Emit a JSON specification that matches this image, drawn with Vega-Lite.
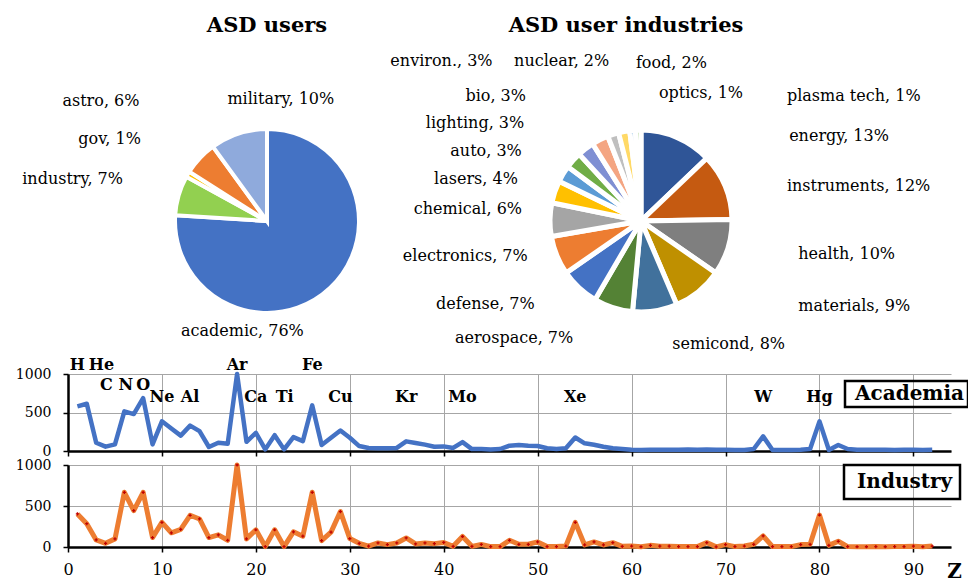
{
  "$schema": "https://vega.github.io/schema/vega-lite/v6.json",
  "autosize": {"type": "pad"},
  "padding": {"left": 15, "top": 14, "right": 4, "bottom": 0},
  "background": "white",
  "config": {
    "view": {"stroke": null},
    "font": "DejaVu Serif",
    "axis": {"labelFont": "DejaVu Serif", "labelFontSize": 16, "labelColor": "black", "domainColor": "black", "domainWidth": 2.5, "tickColor": "black", "tickWidth": 1.5, "gridColor": "#A6A6A6", "gridWidth": 1, "labelFlush": false, "labelOverlap": false},
    "axisY": {"labelFontSize": 14},
    "legend": {"strokeColor": "black", "strokeWidth": 2.5, "labelFont": "DejaVu Serif", "labelFontSize": 20, "labelFontWeight": "bold", "labelColor": "black", "symbolSize": 0, "symbolStrokeWidth": 0, "symbolOpacity": 0},
    "text": {"font": "DejaVu Serif"}
  },
  "datasets": {
    "users": [
      {"group": "academic", "pct": 76, "label": "academic, 76%"},
      {"group": "industry", "pct": 7, "label": "industry, 7%"},
      {"group": "gov", "pct": 1, "label": "gov, 1%"},
      {"group": "astro", "pct": 6, "label": "astro, 6%"},
      {"group": "military", "pct": 10, "label": "military, 10%"}
    ],
    "industries": [
      {"group": "energy", "pct": 13, "label": "energy, 13%"},
      {"group": "instruments", "pct": 12, "label": "instruments, 12%"},
      {"group": "health", "pct": 10, "label": "health, 10%"},
      {"group": "materials", "pct": 9, "label": "materials, 9%"},
      {"group": "semicond", "pct": 8, "label": "semicond, 8%"},
      {"group": "aerospace", "pct": 7, "label": "aerospace, 7%"},
      {"group": "defense", "pct": 7, "label": "defense, 7%"},
      {"group": "electronics", "pct": 7, "label": "electronics, 7%"},
      {"group": "chemical", "pct": 6, "label": "chemical, 6%"},
      {"group": "lasers", "pct": 4, "label": "lasers, 4%"},
      {"group": "auto", "pct": 3, "label": "auto, 3%"},
      {"group": "lighting", "pct": 3, "label": "lighting, 3%"},
      {"group": "bio", "pct": 3, "label": "bio, 3%"},
      {"group": "environ.", "pct": 3, "label": "environ., 3%"},
      {"group": "nuclear", "pct": 2, "label": "nuclear, 2%"},
      {"group": "food", "pct": 2, "label": "food, 2%"},
      {"group": "optics", "pct": 1, "label": "optics, 1%"},
      {"group": "plasma tech", "pct": 1, "label": "plasma tech, 1%"}
    ],
    "academia": [
      {"Z":1,"n":580},{"Z":2,"n":614},{"Z":3,"n":107},{"Z":4,"n":56},{"Z":5,"n":86},{"Z":6,"n":515},{"Z":7,"n":480},{"Z":8,"n":687},{"Z":9,"n":86},{"Z":10,"n":386},
      {"Z":11,"n":292},{"Z":12,"n":200},{"Z":13,"n":330},{"Z":14,"n":258},{"Z":15,"n":52},{"Z":16,"n":107},{"Z":17,"n":94},{"Z":18,"n":1000},{"Z":19,"n":120},{"Z":20,"n":236},
      {"Z":21,"n":21},{"Z":22,"n":206},{"Z":23,"n":21},{"Z":24,"n":180},{"Z":25,"n":129},{"Z":26,"n":592},{"Z":27,"n":77},{"Z":28,"n":172},{"Z":29,"n":266},{"Z":30,"n":172},
      {"Z":31,"n":64},{"Z":32,"n":40},{"Z":33,"n":35},{"Z":34,"n":35},{"Z":35,"n":40},{"Z":36,"n":125},{"Z":37,"n":105},{"Z":38,"n":83},{"Z":39,"n":55},{"Z":40,"n":60},
      {"Z":41,"n":40},{"Z":42,"n":115},{"Z":43,"n":25},{"Z":44,"n":25},{"Z":45,"n":20},{"Z":46,"n":26},{"Z":47,"n":69},{"Z":48,"n":78},{"Z":49,"n":69},{"Z":50,"n":65},
      {"Z":51,"n":35},{"Z":52,"n":26},{"Z":53,"n":35},{"Z":54,"n":175},{"Z":55,"n":100},{"Z":56,"n":82},{"Z":57,"n":56},{"Z":58,"n":35},{"Z":59,"n":26},{"Z":60,"n":17},
      {"Z":61,"n":13},{"Z":62,"n":15},{"Z":63,"n":15},{"Z":64,"n":15},{"Z":65,"n":15},{"Z":66,"n":18},{"Z":67,"n":15},{"Z":68,"n":20},{"Z":69,"n":15},{"Z":70,"n":15},
      {"Z":71,"n":13},{"Z":72,"n":13},{"Z":73,"n":26},{"Z":74,"n":190},{"Z":75,"n":13},{"Z":76,"n":13},{"Z":77,"n":13},{"Z":78,"n":16},{"Z":79,"n":26},{"Z":80,"n":385},
      {"Z":81,"n":13},{"Z":82,"n":78},{"Z":83,"n":26},{"Z":84,"n":15},{"Z":85,"n":15},{"Z":86,"n":15},{"Z":87,"n":15},{"Z":88,"n":13},{"Z":89,"n":15},{"Z":90,"n":15},
      {"Z":91,"n":13},{"Z":92,"n":15}
    ],
    "industry": [
      {"Z":1,"n":403},{"Z":2,"n":284},{"Z":3,"n":86},{"Z":4,"n":45},{"Z":5,"n":99},{"Z":6,"n":667},{"Z":7,"n":444},{"Z":8,"n":667},{"Z":9,"n":115},{"Z":10,"n":300},
      {"Z":11,"n":173},{"Z":12,"n":214},{"Z":13,"n":387},{"Z":14,"n":342},{"Z":15,"n":115},{"Z":16,"n":148},{"Z":17,"n":82},{"Z":18,"n":1000},{"Z":19,"n":99},{"Z":20,"n":210},
      {"Z":21,"n":5},{"Z":22,"n":210},{"Z":23,"n":5},{"Z":24,"n":185},{"Z":25,"n":132},{"Z":26,"n":667},{"Z":27,"n":78},{"Z":28,"n":181},{"Z":29,"n":432},{"Z":30,"n":103},
      {"Z":31,"n":45},{"Z":32,"n":10},{"Z":33,"n":49},{"Z":34,"n":29},{"Z":35,"n":49},{"Z":36,"n":110},{"Z":37,"n":37},{"Z":38,"n":49},{"Z":39,"n":41},{"Z":40,"n":55},
      {"Z":41,"n":8},{"Z":42,"n":128},{"Z":43,"n":8},{"Z":44,"n":31},{"Z":45,"n":5},{"Z":46,"n":5},{"Z":47,"n":82},{"Z":48,"n":33},{"Z":49,"n":33},{"Z":50,"n":62},
      {"Z":51,"n":5},{"Z":52,"n":5},{"Z":53,"n":12},{"Z":54,"n":300},{"Z":55,"n":25},{"Z":56,"n":62},{"Z":57,"n":25},{"Z":58,"n":53},{"Z":59,"n":8},{"Z":60,"n":12},
      {"Z":61,"n":3},{"Z":62,"n":20},{"Z":63,"n":10},{"Z":64,"n":10},{"Z":65,"n":5},{"Z":66,"n":5},{"Z":67,"n":5},{"Z":68,"n":53},{"Z":69,"n":2},{"Z":70,"n":29},
      {"Z":71,"n":5},{"Z":72,"n":12},{"Z":73,"n":33},{"Z":74,"n":135},{"Z":75,"n":5},{"Z":76,"n":5},{"Z":77,"n":5},{"Z":78,"n":29},{"Z":79,"n":33},{"Z":80,"n":390},
      {"Z":81,"n":20},{"Z":82,"n":70},{"Z":83,"n":5},{"Z":84,"n":3},{"Z":85,"n":3},{"Z":86,"n":5},{"Z":87,"n":3},{"Z":88,"n":5},{"Z":89,"n":5},{"Z":90,"n":10},
      {"Z":91,"n":3},{"Z":92,"n":12}
    ],
    "elements": [
      {"el":"H","Z":1},{"el":"He","Z":2},{"el":"C","Z":6},{"el":"N","Z":7},{"el":"O","Z":8},{"el":"Ne","Z":10},{"el":"Al","Z":13},{"el":"Ar","Z":18},{"el":"Ca","Z":20},{"el":"Ti","Z":22},
      {"el":"Fe","Z":26},{"el":"Cu","Z":29},{"el":"Kr","Z":36},{"el":"Mo","Z":42},{"el":"Xe","Z":54},{"el":"W","Z":74},{"el":"Hg","Z":80}
    ]
  },
  "spacing": 0,
  "resolve": {"scale": {"color": "independent", "theta": "independent"}, "legend": {"color": "independent"}},
  "vconcat": [
    {
      "hconcat": [
        {
          "width": 398, "height": 270,
          "title": {"text": "ASD users", "frame": "group", "anchor": "middle", "offset": 33, "baseline": "alphabetic", "fontSize": 21, "fontWeight": "bold", "font": "DejaVu Serif", "color": "black"},
          "data": {"name": "users"},
          "transform": [
            {"window": [{"op": "row_number", "as": "idx"}]},
            {"stack": "pct", "groupby": [], "sort": [{"field": "idx"}], "offset": "normalize", "as": ["t0", "t1"]},
            {"calculate": "(datum.t0 + datum.t1) / 2", "as": "tm"}
          ],
          "layer": [
            {"mark": {"type": "arc", "outerRadius": 92, "stroke": "white", "strokeWidth": 4},
             "encoding": {
               "theta": {"field": "t0", "type": "quantitative", "scale": {"domain": [0, 1]}},
               "theta2": {"field": "t1"},
               "color": {"field": "group", "type": "nominal", "legend": null,
                 "scale": {"domain": ["academic", "industry", "gov", "astro", "military"], "range": ["#4472C4", "#92D050", "#FFC000", "#ED7D31", "#8FAADC"]}}
             }},
            {"transform": [{"filter": {"field": "group", "equal": "military"}}],
             "mark": {"type": "text", "radius": 128, "align": "left", "baseline": "middle", "fontSize": 16, "color": "black"},
             "encoding": {"theta": {"field": "tm", "type": "quantitative"}, "text": {"field": "label"}}},
            {"transform": [{"filter": {"field": "group", "equal": "astro"}}],
             "mark": {"type": "text", "radius": 175, "align": "right", "baseline": "middle", "fontSize": 16, "color": "black"},
             "encoding": {"theta": {"field": "tm", "type": "quantitative"}, "text": {"field": "label"}}},
            {"transform": [{"filter": {"field": "group", "equal": "gov"}}],
             "mark": {"type": "text", "radius": 150, "align": "right", "baseline": "middle", "dx": 3, "dy": -6, "fontSize": 16, "color": "black"},
             "encoding": {"theta": {"field": "tm", "type": "quantitative"}, "text": {"field": "label"}}},
            {"transform": [{"filter": {"field": "group", "equal": "industry"}}],
             "mark": {"type": "text", "radius": 150, "align": "right", "baseline": "middle", "fontSize": 16, "color": "black"},
             "encoding": {"theta": {"field": "tm", "type": "quantitative"}, "text": {"field": "label"}}},
            {"transform": [{"filter": {"field": "group", "equal": "academic"}}],
             "mark": {"type": "text", "radius": 118, "align": "right", "baseline": "middle", "dx": -44, "dy": 24, "fontSize": 16, "color": "black"},
             "encoding": {"theta": {"field": "tm", "type": "quantitative"}, "text": {"field": "label"}}}
          ]
        },
        {
          "width": 350, "height": 270,
          "title": {"text": "ASD user industries", "frame": "group", "anchor": "middle", "offset": 0, "baseline": "alphabetic", "fontSize": 21, "fontWeight": "bold", "font": "DejaVu Serif", "color": "black", "dx": -15},
          "data": {"name": "industries"},
          "transform": [
            {"window": [{"op": "row_number", "as": "idx"}]},
            {"stack": "pct", "groupby": [], "sort": [{"field": "idx"}], "offset": "normalize", "as": ["t0", "t1"]},
            {"calculate": "(datum.t0 + datum.t1) / 2", "as": "tm"}
          ],
          "layer": [
            {"mark": {"type": "arc", "outerRadius": 91, "stroke": "white", "strokeWidth": 5},
             "encoding": {
               "theta": {"field": "t0", "type": "quantitative", "scale": {"domain": [0, 1]}},
               "theta2": {"field": "t1"},
               "color": {"field": "group", "type": "nominal", "legend": null,
                 "scale": {
                   "domain": ["energy", "instruments", "health", "materials", "semicond", "aerospace", "defense", "electronics", "chemical", "lasers", "auto", "lighting", "bio", "environ.", "nuclear", "food", "optics", "plasma tech"],
                   "range": ["#2F5597", "#C55A11", "#7F7F7F", "#BF9000", "#41719C", "#548235", "#4472C4", "#ED7D31", "#A5A5A5", "#FFC000", "#5B9BD5", "#70AD47", "#7F8FD3", "#F4A582", "#BFBFBF", "#FFD966", "#9DC3E6", "#A9D18E"]}}
             }},
            {"transform": [{"filter": {"field": "group", "equal": "instruments"}}],
             "mark": {"type": "text", "radius": 135, "align": "left", "baseline": "middle", "dx": 21, "dy": 16, "fontSize": 16, "color": "black"},
             "encoding": {"theta": {"field": "tm", "type": "quantitative"}, "text": {"field": "label"}}},
            {"transform": [{"filter": {"field": "group", "equal": "health"}}],
             "mark": {"type": "text", "radius": 135, "align": "left", "baseline": "middle", "dx": 28, "dy": -6, "fontSize": 16, "color": "black"},
             "encoding": {"theta": {"field": "tm", "type": "quantitative"}, "text": {"field": "label"}}},
            {"transform": [{"filter": {"field": "group", "equal": "materials"}}],
             "mark": {"type": "text", "radius": 135, "align": "left", "baseline": "middle", "dx": 72, "dy": -20, "fontSize": 16, "color": "black"},
             "encoding": {"theta": {"field": "tm", "type": "quantitative"}, "text": {"field": "label"}}},
            {"transform": [{"filter": {"field": "group", "equal": "semicond"}}],
             "mark": {"type": "text", "radius": 125, "align": "left", "baseline": "middle", "dx": 12, "fontSize": 16, "color": "black"},
             "encoding": {"theta": {"field": "tm", "type": "quantitative"}, "text": {"field": "label"}}},
            {"transform": [{"filter": {"field": "group", "equal": "aerospace"}}],
             "mark": {"type": "text", "radius": 130, "align": "right", "baseline": "middle", "dx": -28, "dy": -7, "fontSize": 16, "color": "black"},
             "encoding": {"theta": {"field": "tm", "type": "quantitative"}, "text": {"field": "label"}}},
            {"transform": [{"filter": {"field": "group", "equal": "defense"}}],
             "mark": {"type": "text", "radius": 130, "align": "right", "baseline": "middle", "dx": -18, "dy": -12, "fontSize": 16, "color": "black"},
             "encoding": {"theta": {"field": "tm", "type": "quantitative"}, "text": {"field": "label"}}},
            {"transform": [{"filter": {"field": "group", "equal": "electronics"}}],
             "mark": {"type": "text", "radius": 130, "align": "right", "baseline": "middle", "dx": 7, "dy": -14, "fontSize": 16, "color": "black"},
             "encoding": {"theta": {"field": "tm", "type": "quantitative"}, "text": {"field": "label"}}},
            {"transform": [{"filter": {"field": "group", "equal": "chemical"}}],
             "mark": {"type": "text", "radius": 130, "align": "right", "baseline": "middle", "dx": 11, "dy": -10, "fontSize": 16, "color": "black"},
             "encoding": {"theta": {"field": "tm", "type": "quantitative"}, "text": {"field": "label"}}},
            {"transform": [{"filter": {"field": "group", "equal": "lasers"}}],
             "mark": {"type": "text", "radius": 130, "align": "right", "baseline": "middle", "fontSize": 16, "color": "black"},
             "encoding": {"theta": {"field": "tm", "type": "quantitative"}, "text": {"field": "label"}}},
            {"transform": [{"filter": {"field": "group", "equal": "auto"}}],
             "mark": {"type": "text", "radius": 130, "align": "right", "baseline": "middle", "dx": -8, "dy": -3, "fontSize": 16, "color": "black"},
             "encoding": {"theta": {"field": "tm", "type": "quantitative"}, "text": {"field": "label"}}},
            {"transform": [{"filter": {"field": "group", "equal": "lighting"}}],
             "mark": {"type": "text", "radius": 130, "align": "right", "baseline": "middle", "dx": -20, "dy": -11, "fontSize": 16, "color": "black"},
             "encoding": {"theta": {"field": "tm", "type": "quantitative"}, "text": {"field": "label"}}},
            {"transform": [{"filter": {"field": "group", "equal": "energy"}}],
             "mark": {"type": "text", "radius": 130, "align": "left", "baseline": "middle", "dx": 97, "dy": 35, "fontSize": 16, "color": "black"},
             "encoding": {"theta": {"field": "tm", "type": "quantitative"}, "text": {"field": "label"}}},
            {"transform": [{"filter": {"field": "group", "equal": "bio"}}],
             "mark": {"type": "text", "radius": 130, "align": "right", "baseline": "middle", "dx": -36, "dy": -22, "fontSize": 16, "color": "black"},
             "encoding": {"theta": {"field": "tm", "type": "quantitative"}, "text": {"field": "label"}}},
            {"transform": [{"filter": {"field": "group", "equal": "environ."}}],
             "mark": {"type": "text", "radius": 130, "align": "right", "baseline": "middle", "dx": -90, "dy": -44, "fontSize": 16, "color": "black"},
             "encoding": {"theta": {"field": "tm", "type": "quantitative"}, "text": {"field": "label"}}},
            {"transform": [{"filter": {"field": "group", "equal": "nuclear"}}],
             "mark": {"type": "text", "radius": 130, "align": "right", "baseline": "middle", "dx": 8, "dy": -36, "fontSize": 16, "color": "black"},
             "encoding": {"theta": {"field": "tm", "type": "quantitative"}, "text": {"field": "label"}}},
            {"transform": [{"filter": {"field": "group", "equal": "food"}}],
             "mark": {"type": "text", "radius": 130, "align": "left", "baseline": "middle", "dx": 19, "dy": -30, "fontSize": 16, "color": "black"},
             "encoding": {"theta": {"field": "tm", "type": "quantitative"}, "text": {"field": "label"}}},
            {"transform": [{"filter": {"field": "group", "equal": "optics"}}],
             "mark": {"type": "text", "radius": 130, "align": "left", "baseline": "middle", "dx": 30, "dy": 1, "fontSize": 16, "color": "black"},
             "encoding": {"theta": {"field": "tm", "type": "quantitative"}, "text": {"field": "label"}}},
            {"transform": [{"filter": {"field": "group", "equal": "plasma tech"}}],
             "mark": {"type": "text", "radius": 130, "align": "left", "baseline": "middle", "dx": 150, "dy": 5, "fontSize": 16, "color": "black"},
             "encoding": {"theta": {"field": "tm", "type": "quantitative"}, "text": {"field": "label"}}}
          ]
        }
      ],
      "spacing": 0,
      "bounds": "flush",
      "resolve": {"scale": {"color": "independent", "theta": "independent"}, "legend": {"color": "independent"}}
    },
    {
      "width": 883, "height": 77,
      "resolve": {"axis": {"x": "independent", "y": "independent"}},
      "layer": [
        {"data": {"name": "academia"},
         "mark": {"type": "line", "strokeWidth": 4.5, "strokeJoin": "round"},
         "encoding": {
           "x": {"field": "Z", "type": "quantitative", "scale": {"domain": [0, 94], "nice": false, "zero": false},
                 "axis": {"orient": "bottom", "values": [0, 10, 20, 30, 40, 50, 60, 70, 80, 90], "labels": false, "title": null, "tickSize": 5, "grid": true, "labelOverlap": false}},
           "y": {"field": "n", "type": "quantitative", "scale": {"domain": [0, 1000], "nice": false},
                 "axis": {"orient": "left", "values": [0, 500, 1000], "format": "d", "title": null, "tickSize": 5, "labelPadding": 12, "labelOverlap": false, "grid": true}},
           "color": {"datum": "Academia", "type": "nominal", "scale": {"range": ["#4472C4"]},
                     "legend": {"orient": "none", "legendX": 777, "legendY": 7, "title": null, "padding": 3, "labelOffset": -13}}
         }},
        {"data": {"name": "elements"}, "transform": [{"filter": {"field": "el", "oneOf": ["H", "Ar", "Fe"]}}],
         "mark": {"type": "text", "fontWeight": "bold", "fontSize": 16, "color": "black", "baseline": "middle"},
         "encoding": {"x": {"field": "Z", "type": "quantitative", "axis": null}, "y": {"datum": 1117, "type": "quantitative", "axis": null}, "text": {"field": "el"}}},
        {"data": {"name": "elements"}, "transform": [{"filter": {"field": "el", "equal": "He"}}],
         "mark": {"type": "text", "fontWeight": "bold", "fontSize": 16, "color": "black", "baseline": "middle", "align": "left", "dx": 2},
         "encoding": {"x": {"field": "Z", "type": "quantitative", "axis": null}, "y": {"datum": 1117, "type": "quantitative", "axis": null}, "text": {"field": "el"}}},
        {"data": {"name": "elements"}, "transform": [{"filter": {"field": "el", "equal": "C"}}],
         "mark": {"type": "text", "fontWeight": "bold", "fontSize": 16, "color": "black", "baseline": "middle", "dx": -18},
         "encoding": {"x": {"field": "Z", "type": "quantitative", "axis": null}, "y": {"datum": 860, "type": "quantitative", "axis": null}, "text": {"field": "el"}}},
        {"data": {"name": "elements"}, "transform": [{"filter": {"field": "el", "equal": "N"}}],
         "mark": {"type": "text", "fontWeight": "bold", "fontSize": 16, "color": "black", "baseline": "middle", "dx": -8},
         "encoding": {"x": {"field": "Z", "type": "quantitative", "axis": null}, "y": {"datum": 860, "type": "quantitative", "axis": null}, "text": {"field": "el"}}},
        {"data": {"name": "elements"}, "transform": [{"filter": {"field": "el", "equal": "O"}}],
         "mark": {"type": "text", "fontWeight": "bold", "fontSize": 16, "color": "black", "baseline": "middle"},
         "encoding": {"x": {"field": "Z", "type": "quantitative", "axis": null}, "y": {"datum": 860, "type": "quantitative", "axis": null}, "text": {"field": "el"}}},
        {"data": {"name": "elements"}, "transform": [{"filter": {"field": "el", "oneOf": ["Ne", "Al", "Ca", "Cu", "Kr", "Mo", "Xe", "W", "Hg"]}}],
         "mark": {"type": "text", "fontWeight": "bold", "fontSize": 16, "color": "black", "baseline": "middle"},
         "encoding": {"x": {"field": "Z", "type": "quantitative", "axis": null}, "y": {"datum": 700, "type": "quantitative", "axis": null}, "text": {"field": "el"}}},
        {"data": {"name": "elements"}, "transform": [{"filter": {"field": "el", "equal": "Ti"}}],
         "mark": {"type": "text", "fontWeight": "bold", "fontSize": 16, "color": "black", "baseline": "middle", "dx": 10},
         "encoding": {"x": {"field": "Z", "type": "quantitative", "axis": null}, "y": {"datum": 700, "type": "quantitative", "axis": null}, "text": {"field": "el"}}}
      ]
    },
    {
      "width": 883, "height": 82,
      "data": {"name": "industry"},
      "layer": [
        {"mark": {"type": "line", "strokeWidth": 5, "strokeJoin": "round"},
         "encoding": {
           "x": {"field": "Z", "type": "quantitative", "scale": {"domain": [0, 94], "nice": false, "zero": false},
                 "axis": {"values": [0, 10, 20, 30, 40, 50, 60, 70, 80, 90], "title": "Z", "tickSize": 5, "grid": true, "labelPadding": 9, "labelOverlap": false,
                          "titleX": 886, "titleY": 24, "titleBaseline": "middle", "titleAlign": "center", "titleFont": "DejaVu Serif", "titleFontSize": 20, "titleFontWeight": "bold", "titleColor": "black"}},
           "y": {"field": "n", "type": "quantitative", "scale": {"domain": [0, 1000], "nice": false},
                 "axis": {"values": [0, 500, 1000], "format": "d", "title": null, "tickSize": 5, "labelPadding": 12, "labelOverlap": false}},
           "color": {"datum": "Industry", "type": "nominal", "scale": {"range": ["#ED7D31"]},
                     "legend": {"orient": "none", "legendX": 776, "legendY": 0, "title": null, "padding": 7, "labelOffset": -14}}
         }},
        {"mark": {"type": "point", "shape": "cross", "filled": true, "size": 10, "color": "#C00000", "opacity": 1},
         "encoding": {"x": {"field": "Z", "type": "quantitative"}, "y": {"field": "n", "type": "quantitative"}}}
      ]
    }
  ]
}
